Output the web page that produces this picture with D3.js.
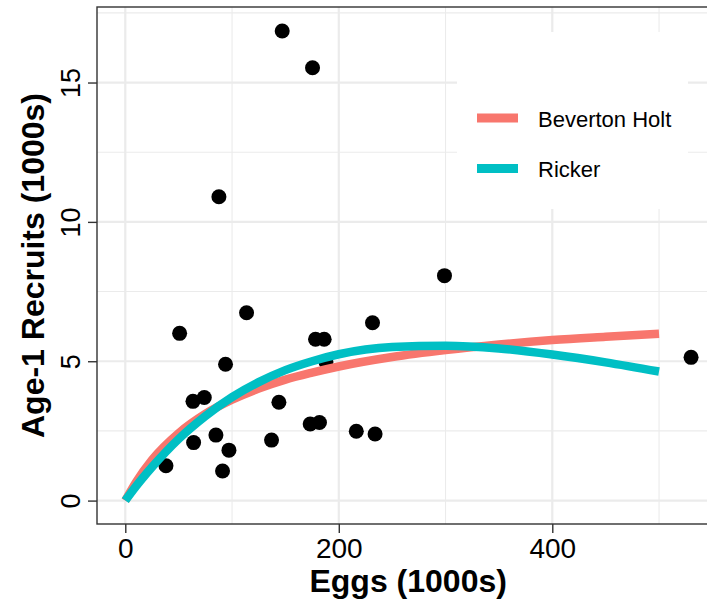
<!DOCTYPE html>
<html>
<head>
<meta charset="utf-8">
<script src="https://cdn.jsdelivr.net/npm/d3@7/dist/d3.min.js"></script>
<style>
  html, body { margin: 0; padding: 0; background: #fff; }
  svg { display: block; font-family: "Liberation Sans", Arial, sans-serif; }
</style>
</head>
<body>
<div id="root"></div>
<script>
// observed stock / recruitment pairs (eggs, recruits, both in 1000s)
const eggs = [147, 175.4, 87.7, 299, 50.9, 113.6, 93.9, 63.4, 74, 143.9, 178.2, 186.3,
  64, 84.9, 97.1, 91.1, 38.1, 137, 173.2, 181.9, 216.4, 231.6, 234, 530, 188];
const recruits = [16.85, 15.53, 10.9, 8.07, 6.0, 6.74, 4.89, 3.56, 3.70, 3.53, 5.79, 5.79,
  2.08, 2.35, 1.81, 1.06, 1.25, 2.17, 2.75, 2.8, 2.49, 6.38, 2.39, 5.14, 4.97];

// fitted curves
const curveEggs = [0, 10, 25, 50, 75, 100, 125, 150, 175, 200, 250, 300, 350, 400, 450, 500];
const bevHolt = [0, 0.66, 1.46, 2.42, 3.11, 3.62, 4.02, 4.34, 4.59, 4.81, 5.15, 5.40, 5.60, 5.76, 5.88, 5.99];
const ricker = [0, 0.51, 1.20, 2.21, 3.03, 3.71, 4.25, 4.68, 5.00, 5.25, 5.51, 5.56, 5.46, 5.24, 4.96, 4.63];

const seriesNames = ["Beverton Holt", "Ricker"];
const seriesColors = ["#F8766D", "#00BFC4"];

const xTicks = [0, 200, 400];
const xMinor = [100, 300, 500];
const yTicks = [0, 5, 10, 15];
const yMinor = [2.5, 7.5, 12.5, 17.5];

const width = 707;
const height = 608;
const panel = { left: 97, top: 7, bottom: 524 };

const svg = d3.select("#root")
  .append("svg")
    .attr("width", width)
    .attr("height", height);

// ggplot style 5% expansion on both axes
const xLo = -26.5, xHi = 556.5;
const yLo = -0.84, yHi = 17.71;
const pxPerX = 1.0675;

const x = d3.scaleLinear()
  .domain([xLo, xHi])
  .range([panel.left, panel.left + (xHi - xLo) * pxPerX]);

const y = d3.scaleLinear()
  .domain([yLo, yHi])
  .range([panel.bottom, panel.top]);

const panelRight = x(xHi);

// background grid
const grid = svg.append("g");

grid.selectAll(".xminor")
  .data(xMinor)
  .enter()
  .append("line")
    .attr("x1", d => x(d)).attr("x2", d => x(d))
    .attr("y1", panel.top).attr("y2", panel.bottom)
    .attr("stroke", "#EBEBEB").attr("stroke-width", 1.1);

grid.selectAll(".yminor")
  .data(yMinor)
  .enter()
  .append("line")
    .attr("x1", panel.left).attr("x2", panelRight)
    .attr("y1", d => y(d)).attr("y2", d => y(d))
    .attr("stroke", "#EBEBEB").attr("stroke-width", 1.1);

grid.selectAll(".xmajor")
  .data(xTicks)
  .enter()
  .append("line")
    .attr("x1", d => x(d)).attr("x2", d => x(d))
    .attr("y1", panel.top).attr("y2", panel.bottom)
    .attr("stroke", "#EBEBEB").attr("stroke-width", 2.2);

grid.selectAll(".ymajor")
  .data(yTicks)
  .enter()
  .append("line")
    .attr("x1", panel.left).attr("x2", panelRight)
    .attr("y1", d => y(d)).attr("y2", d => y(d))
    .attr("stroke", "#EBEBEB").attr("stroke-width", 2.2);

// legend box sits inside the panel and hides the grid behind it
const legend = svg.append("g");
legend.append("rect")
  .attr("x", 457).attr("y", 32)
  .attr("width", 231).attr("height", 177)
  .attr("fill", "#fff");

// points go under the curves
svg.append("g")
  .selectAll("circle")
  .data(eggs)
  .enter()
  .append("circle")
    .attr("cx", d => x(d))
    .attr("cy", (d, i) => y(recruits[i]))
    .attr("r", 7.5)
    .attr("fill", "#000");

const line = d3.line()
  .x((d, i) => x(curveEggs[i]))
  .y(d => y(d))
  .curve(d3.curveMonotoneX);

svg.append("g")
  .selectAll("path")
  .data([bevHolt, ricker])
  .enter()
  .append("path")
    .attr("d", d => line(d))
    .attr("fill", "none")
    .attr("stroke", (d, i) => seriesColors[i])
    .attr("stroke-width", 8.5)
    .attr("stroke-linecap", "butt");

// panel border
svg.append("rect")
  .attr("x", panel.left).attr("y", panel.top)
  .attr("width", panelRight - panel.left)
  .attr("height", panel.bottom - panel.top)
  .attr("fill", "none")
  .attr("stroke", "#333")
  .attr("stroke-width", 1.4);

// x axis
const xAxis = svg.append("g")
  .attr("transform", "translate(0," + panel.bottom + ")")
  .call(d3.axisBottom(x).tickValues(xTicks).tickSize(9).tickPadding(5));
xAxis.select(".domain").remove();
xAxis.selectAll("line").attr("stroke", "#333").attr("stroke-width", 1.4);
xAxis.selectAll("text")
  .attr("fill", "#000")
  .style("font-size", "28px")
  .style("font-family", "Liberation Sans, Arial, sans-serif");

// y axis, labels turned on their side
const yAxis = svg.append("g")
  .attr("transform", "translate(" + panel.left + ",0)")
  .call(d3.axisLeft(y).tickValues(yTicks).tickSize(9));
yAxis.select(".domain").remove();
yAxis.selectAll("line").attr("stroke", "#333").attr("stroke-width", 1.4);
yAxis.selectAll("text")
  .attr("x", 0).attr("dy", 0)
  .attr("transform", "translate(-17,0) rotate(-90)")
  .style("text-anchor", "middle")
  .attr("fill", "#000")
  .style("font-size", "27px")
  .style("font-family", "Liberation Sans, Arial, sans-serif");

// axis titles
svg.append("text")
  .attr("x", (panel.left + panelRight) / 2)
  .attr("y", 592)
  .attr("text-anchor", "middle")
  .style("font-size", "32px")
  .style("font-weight", "bold")
  .text("Eggs (1000s)");

svg.append("text")
  .attr("transform", "translate(44," + (panel.top + panel.bottom) / 2 + ") rotate(-90)")
  .attr("text-anchor", "middle")
  .style("font-size", "32px")
  .style("font-weight", "bold")
  .text("Age-1 Recruits (1000s)");

// legend entries
const keys = legend.selectAll(".key")
  .data(seriesNames)
  .enter()
  .append("g")
    .attr("transform", (d, i) => "translate(0," + (118 + i * 50.5) + ")");

keys.append("line")
  .attr("x1", 477).attr("x2", 518)
  .attr("y1", 0).attr("y2", 0)
  .attr("stroke", (d, i) => seriesColors[i])
  .attr("stroke-width", 9);

keys.append("text")
  .attr("x", 538)
  .attr("y", 8.5)
  .style("font-size", "22px")
  .attr("fill", "#000")
  .text(d => d);
</script>
</body>
</html>
